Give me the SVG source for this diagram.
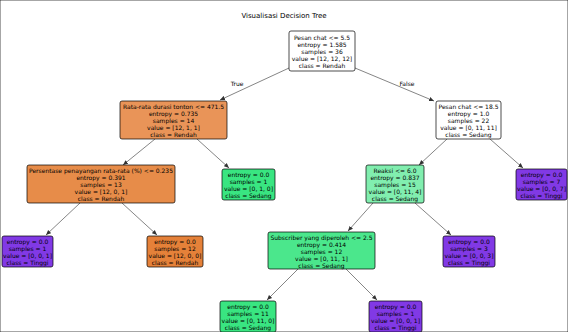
<svg xmlns="http://www.w3.org/2000/svg" width="568" height="332" viewBox="0 0 568 332">
<style>
text{font-family:"DejaVu Sans",sans-serif;font-size:6px;fill:#000;text-anchor:middle}
.t{font-size:7px}
.lbl{font-size:6px}
rect{stroke:#000;stroke-width:0.7}
.w{fill:#ffffff}.o{fill:#e58139}.o1{fill:#e99458}.o2{fill:#e78c49}
.g{fill:#39e581}.g1{fill:#81eeaf}.g2{fill:#4be78c}.p{fill:#8139e5}
.e{stroke:#333;stroke-width:0.6;fill:none}
</style>
<defs>
<marker id="ah" markerWidth="6" markerHeight="6" refX="5" refY="3" orient="auto" markerUnits="userSpaceOnUse">
<path d="M0,0.8 L5,3 L0,5.2 z" fill="#333"/>
</marker>
</defs>
<rect width="568" height="332" fill="#fff" stroke="none"/>
<text class="t" x="284" y="18">Visualisasi Decision Tree</text>
<g id="connectors">
<line class="e" x1="289" y1="68" x2="220" y2="100" marker-end="url(#ah)"/>
<line class="e" x1="355" y1="68" x2="434" y2="101" marker-end="url(#ah)"/>
<text class="lbl" x="237" y="86">True</text>
<text class="lbl" x="407" y="86">False</text>
<line class="e" x1="155" y1="139" x2="123" y2="165" marker-end="url(#ah)"/>
<line class="e" x1="197" y1="139" x2="229" y2="168" marker-end="url(#ah)"/>
<line class="e" x1="80" y1="203" x2="46" y2="235" marker-end="url(#ah)"/>
<line class="e" x1="122" y1="203" x2="157" y2="235" marker-end="url(#ah)"/>
<line class="e" x1="447" y1="139" x2="419" y2="165" marker-end="url(#ah)"/>
<line class="e" x1="490" y1="139" x2="523" y2="168" marker-end="url(#ah)"/>
<line class="e" x1="373" y1="203" x2="348" y2="231" marker-end="url(#ah)"/>
<line class="e" x1="415" y1="203" x2="451" y2="235" marker-end="url(#ah)"/>
<line class="e" x1="298" y1="269" x2="267" y2="300" marker-end="url(#ah)"/>
<line class="e" x1="346" y1="269" x2="377" y2="300" marker-end="url(#ah)"/>
</g>
<g id="root">
<rect class="w" x="289" y="31" width="66" height="40" rx="2"/>
<text x="322" y="40">Pesan chat &lt;= 5.5</text>
<text x="322" y="47">entropy = 1.585</text>
<text x="322" y="54">samples = 36</text>
<text x="322" y="61">value = [12, 12, 12]</text>
<text x="322" y="68">class = Rendah</text>
</g>
<g id="n_durasi">
<rect class="o1" x="120" y="101" width="107" height="38" rx="2"/>
<text x="173.5" y="109">Rata-rata durasi tonton &lt;= 471.5</text>
<text x="173.5" y="116">entropy = 0.735</text>
<text x="173.5" y="123">samples = 14</text>
<text x="173.5" y="130">value = [12, 1, 1]</text>
<text x="173.5" y="137">class = Rendah</text>
</g>
<g id="n_chat185">
<rect class="w" x="436" y="101" width="65" height="38" rx="2"/>
<text x="468.5" y="109">Pesan chat &lt;= 18.5</text>
<text x="468.5" y="116">entropy = 1.0</text>
<text x="468.5" y="123">samples = 22</text>
<text x="468.5" y="130">value = [0, 11, 11]</text>
<text x="468.5" y="137">class = Sedang</text>
</g>
<g id="n_persen">
<rect class="o2" x="27" y="165" width="148" height="38" rx="2"/>
<text x="101" y="173">Persentase penayangan rata-rata (%) &lt;= 0.235</text>
<text x="101" y="180">entropy = 0.391</text>
<text x="101" y="187">samples = 13</text>
<text x="101" y="194">value = [12, 0, 1]</text>
<text x="101" y="201">class = Rendah</text>
</g>
<g id="leaf_s1">
<rect class="g" x="222" y="169" width="53" height="31" rx="2"/>
<text x="248.5" y="177">entropy = 0.0</text>
<text x="248.5" y="184">samples = 1</text>
<text x="248.5" y="191">value = [0, 1, 0]</text>
<text x="248.5" y="198">class = Sedang</text>
</g>
<g id="n_reaksi">
<rect class="g1" x="366" y="165" width="58" height="38" rx="2"/>
<text x="395" y="173">Reaksi &lt;= 6.0</text>
<text x="395" y="180">entropy = 0.837</text>
<text x="395" y="187">samples = 15</text>
<text x="395" y="194">value = [0, 11, 4]</text>
<text x="395" y="201">class = Sedang</text>
</g>
<g id="leaf_t_r">
<rect class="p" x="516" y="169" width="51" height="31" rx="2"/>
<text x="541.5" y="177">entropy = 0.0</text>
<text x="541.5" y="184">samples = 7</text>
<text x="541.5" y="191">value = [0, 0, 7]</text>
<text x="541.5" y="198">class = Tinggi</text>
</g>
<g id="leaf_t1">
<rect class="p" x="2" y="236" width="51" height="31" rx="2"/>
<text x="27.5" y="244">entropy = 0.0</text>
<text x="27.5" y="251">samples = 1</text>
<text x="27.5" y="258">value = [0, 0, 1]</text>
<text x="27.5" y="265">class = Tinggi</text>
</g>
<g id="leaf_r">
<rect class="o" x="147" y="236" width="56" height="31" rx="2"/>
<text x="175" y="244">entropy = 0.0</text>
<text x="175" y="251">samples = 12</text>
<text x="175" y="258">value = [12, 0, 0]</text>
<text x="175" y="265">class = Rendah</text>
</g>
<g id="n_subscriber">
<rect class="g2" x="268" y="232" width="107" height="37" rx="2"/>
<text x="321.5" y="240">Subscriber yang diperoleh &lt;= 2.5</text>
<text x="321.5" y="247">entropy = 0.414</text>
<text x="321.5" y="254">samples = 12</text>
<text x="321.5" y="261">value = [0, 11, 1]</text>
<text x="321.5" y="268">class = Sedang</text>
</g>
<g id="leaf_t3">
<rect class="p" x="443" y="236" width="52" height="31" rx="2"/>
<text x="469" y="244">entropy = 0.0</text>
<text x="469" y="251">samples = 3</text>
<text x="469" y="258">value = [0, 0, 3]</text>
<text x="469" y="265">class = Tinggi</text>
</g>
<g id="leaf_s2">
<rect class="g" x="220" y="301" width="56" height="31" rx="2"/>
<text x="248" y="309">entropy = 0.0</text>
<text x="248" y="316">samples = 11</text>
<text x="248" y="323">value = [0, 11, 0]</text>
<text x="248" y="330">class = Sedang</text>
</g>
<g id="leaf_t4">
<rect class="p" x="369" y="301" width="53" height="31" rx="2"/>
<text x="395.5" y="309">entropy = 0.0</text>
<text x="395.5" y="316">samples = 1</text>
<text x="395.5" y="323">value = [0, 0, 1]</text>
<text x="395.5" y="330">class = Tinggi</text>
</g>
</svg>
